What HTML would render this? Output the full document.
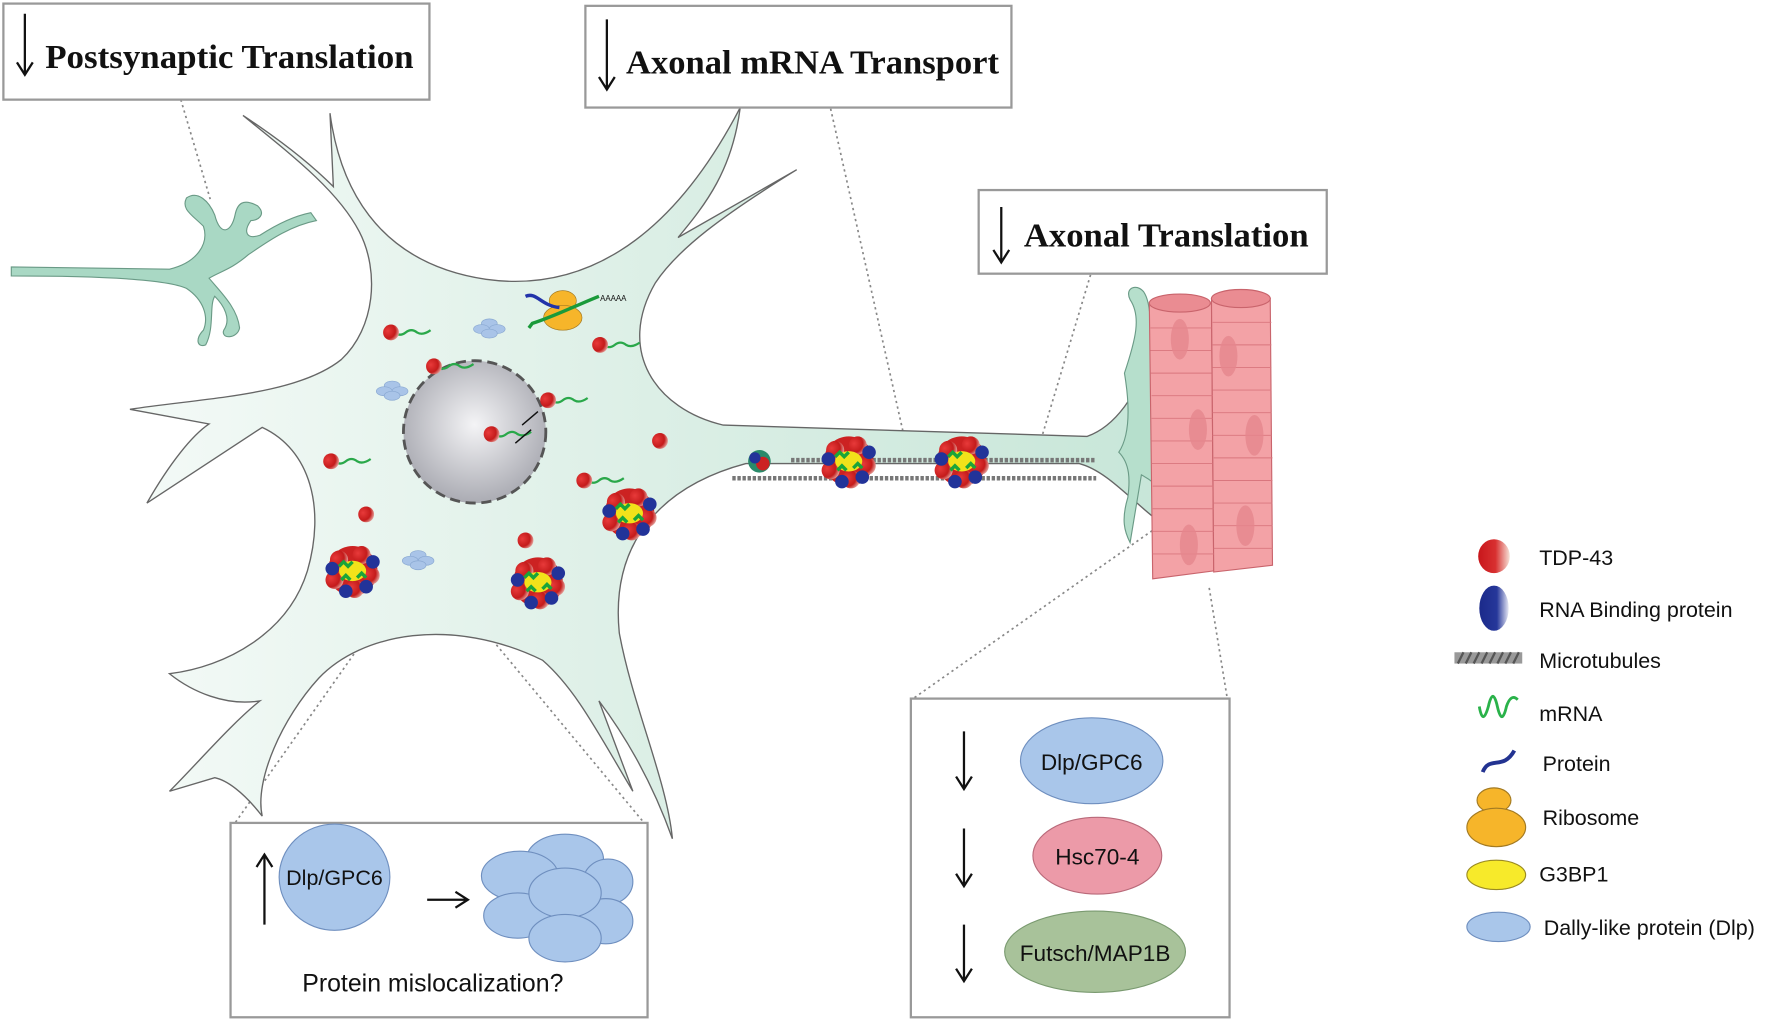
<!DOCTYPE html>
<html><head><meta charset="utf-8">
<style>
html,body{margin:0;padding:0;background:#fff;}
svg{display:block;}
.t{font-family:"Liberation Serif",serif;font-weight:bold;fill:#111;}
.s{font-family:"Liberation Sans",sans-serif;fill:#111;}
</style></head><body>
<svg width="1772" height="1022" viewBox="0 0 1568 904" xmlns="http://www.w3.org/2000/svg">
<defs>
<linearGradient id="cell" x1="0" y1="0" x2="1" y2="0">
<stop offset="0" stop-color="#f4faf7"/><stop offset="0.5" stop-color="#dcefe6"/><stop offset="1" stop-color="#c7e6d8"/>
</linearGradient>
<radialGradient id="nuc" cx="0.5" cy="0.45" r="0.6">
<stop offset="0" stop-color="#f4f4f6"/><stop offset="1" stop-color="#a4a5ad"/>
</radialGradient>
<radialGradient id="red" cx="0.3" cy="0.4" r="0.8">
<stop offset="0" stop-color="#e83a3a"/><stop offset="0.6" stop-color="#c41b1b"/><stop offset="1" stop-color="#f0d0c8"/>
</radialGradient>
<linearGradient id="redL" x1="0" y1="0" x2="1" y2="0">
<stop offset="0" stop-color="#c8161b"/><stop offset="0.55" stop-color="#d83030"/><stop offset="1" stop-color="#f6e2d8"/>
</linearGradient>
<linearGradient id="blueL" x1="0" y1="0" x2="1" y2="0">
<stop offset="0" stop-color="#1b2a8a"/><stop offset="0.6" stop-color="#26379a"/><stop offset="1" stop-color="#e6e8f4"/>
</linearGradient>
<g id="grain">
<circle r="22" fill="#c22"/>
<circle cx="-12" cy="-10" r="8" fill="url(#red)"/><circle cx="8" cy="-14" r="8" fill="url(#red)"/>
<circle cx="16" cy="4" r="8" fill="url(#red)"/><circle cx="-16" cy="8" r="8" fill="url(#red)"/>
<circle cx="2" cy="16" r="8" fill="url(#red)"/><circle cx="-18" cy="-2" r="6" fill="#223399"/>
<circle cx="18" cy="-8" r="6" fill="#223399"/><circle cx="-6" cy="18" r="6" fill="#223399"/>
<circle cx="12" cy="14" r="6" fill="#223399"/>
<ellipse cx="0" cy="0" rx="12" ry="9" fill="#f2e21a"/>
<path d="M-12,-4 l4,-4 l4,4 l4,-4 M4,6 l4,-4 l4,4 M-10,8 l4,-4 l4,4" stroke="#1aa53a" stroke-width="3" fill="none"/>
</g>
<g id="tdp"><path d="M0,0 q5,4 10,0 q5,-4 10,0 q5,3 12,-2" stroke="#2aa84a" stroke-width="2" fill="none"/><circle cx="-3" cy="0" r="7" fill="url(#red)"/></g>
<g id="dlpc"><ellipse cx="0" cy="-4" rx="7" ry="4" fill="#a9c4e8" stroke="#8aa9d2" stroke-width="0.6"/><ellipse cx="-7" cy="1" rx="7" ry="4" fill="#a9c4e8" stroke="#8aa9d2" stroke-width="0.6"/><ellipse cx="7" cy="1" rx="7" ry="4" fill="#a9c4e8" stroke="#8aa9d2" stroke-width="0.6"/><ellipse cx="0" cy="5" rx="7" ry="4" fill="#a9c4e8" stroke="#8aa9d2" stroke-width="0.6"/></g>
</defs>

<g stroke="#888" stroke-width="1.5" stroke-dasharray="2,3" fill="none">
<line x1="160" y1="88" x2="186" y2="176"/>
<line x1="735" y1="96" x2="800" y2="386"/>
<line x1="965" y1="243" x2="922" y2="386"/>
<line x1="365" y1="505" x2="208" y2="728"/>
<line x1="385" y1="505" x2="570" y2="728"/>
<line x1="1040" y1="455" x2="808" y2="618"/>
<line x1="1070" y1="520" x2="1086" y2="618"/>
</g>

<path d="M215,102 C250,125 275,145 295,165 L292,100 C300,160 330,232 430,247 C510,258 590,220 655,95 C648,150 625,180 600,210 L705,150 C640,190 600,220 580,250 C545,310 580,362 640,376 L962,386 C990,376 1005,345 1012,330 L1040,470 C1010,455 985,418 955,410 L660,410 C585,430 540,480 548,560 C560,625 590,690 595,742 C580,700 560,660 530,620 L560,700 C530,650 510,610 480,584 C400,545 320,560 282,600 C250,635 225,690 232,722 C215,700 200,690 190,688 L150,700 C175,675 205,640 230,620 C200,625 170,612 150,596 C200,590 255,560 272,505 C288,450 275,398 232,378 L130,445 C150,410 170,385 185,375 L115,362 C180,352 262,350 302,318 C332,290 336,240 318,205 C300,170 262,140 215,102 Z" fill="url(#cell)" stroke="#666" stroke-width="1.2"/>

<path d="M10,236 L150,238 C175,232 185,215 180,200 C170,190 160,185 165,175 C175,168 185,178 190,190 C195,210 205,205 208,190 C210,180 215,175 228,182 C236,190 228,195 222,195 C215,205 218,212 230,208 C250,195 265,190 275,188 L280,195 C255,200 235,215 220,225 C205,238 195,240 185,246 C195,258 210,272 212,290 C210,300 195,300 198,292 C205,282 198,270 190,262 C185,270 190,290 182,305 C175,308 172,300 180,292 C185,280 180,265 165,255 C150,248 100,244 10,244 Z" fill="#a9d8c4" stroke="#6a9a86" stroke-width="1"/>

<path d="M995,330 C1005,300 1010,280 1000,265 C995,255 1005,250 1012,258 C1020,270 1015,290 1025,300 C1040,290 1050,280 1055,300 C1045,310 1035,320 1030,340 C1035,365 1050,372 1060,380 C1070,375 1075,390 1065,395 C1050,395 1040,388 1030,395 C1040,410 1050,430 1055,450 C1055,470 1040,470 1040,455 C1035,440 1025,428 1010,420 L1000,480 C995,470 992,460 998,440 C1000,425 1000,410 990,400 C1000,385 1000,360 995,330 Z" fill="#b6dfcc" stroke="#6a9a86" stroke-width="1"/>

<g stroke="#c9646c" stroke-width="1">
<path d="M1017,268 L1072,268 L1074,505 L1020,512 Z" fill="#f3a2a6"/>
<ellipse cx="1044" cy="268" rx="27" ry="8" fill="#ea8c92"/>
<path d="M1072,264 L1124,264 L1126,500 L1074,506 Z" fill="#f3a2a6"/>
<ellipse cx="1098" cy="264" rx="26" ry="8" fill="#ea8c92"/>
<g fill="none" stroke="#d9767e" stroke-width="0.8">
<path d="M1018,290 h54 M1018,310 h54 M1018,330 h54 M1019,350 h54 M1019,370 h54 M1019,390 h54 M1019,410 h54 M1020,430 h54 M1020,450 h54 M1020,470 h54 M1020,490 h54"/>
<path d="M1073,285 h52 M1073,305 h52 M1073,325 h52 M1073,345 h52 M1073,365 h52 M1073,385 h52 M1074,405 h52 M1074,425 h52 M1074,445 h52 M1074,465 h52 M1074,485 h52"/>
</g>
<g fill="#e6878e" stroke="none" opacity="0.8">
<ellipse cx="1044" cy="300" rx="8" ry="18"/><ellipse cx="1060" cy="380" rx="8" ry="18"/><ellipse cx="1052" cy="482" rx="8" ry="18"/>
<ellipse cx="1087" cy="315" rx="8" ry="18"/><ellipse cx="1110" cy="385" rx="8" ry="18"/><ellipse cx="1102" cy="465" rx="8" ry="18"/>
</g>
</g>

<circle cx="420" cy="382" r="63" fill="url(#nuc)" stroke="#555" stroke-width="2.5" stroke-dasharray="9,5"/>

<g stroke="#777" stroke-width="4" stroke-dasharray="3,1.5">
<line x1="700" y1="407" x2="970" y2="407"/><line x1="648" y1="423" x2="970" y2="423"/>
</g>

<use href="#tdp" x="349" y="294"/>
<use href="#tdp" x="387" y="324"/>
<use href="#tdp" x="488" y="354"/>
<use href="#tdp" x="534" y="305"/>
<use href="#tdp" x="438" y="384"/>
<use href="#tdp" x="296" y="408"/>
<use href="#tdp" x="520" y="425"/>
<circle cx="584" cy="390" r="7" fill="url(#red)"/>
<circle cx="324" cy="455" r="7" fill="url(#red)"/>
<circle cx="465" cy="478" r="7" fill="url(#red)"/>
<path d="M462,376 l14,-12 M470,380 l-14,12" stroke="#111" stroke-width="1.3"/>
<use href="#dlpc" x="433" y="290"/>
<use href="#dlpc" x="347" y="345"/>
<use href="#dlpc" x="370" y="495"/>
<use href="#grain" x="557" y="454"/>
<use href="#grain" x="312" y="505"/>
<use href="#grain" x="476" y="515"/>
<use href="#grain" x="751" y="408"/>
<use href="#grain" x="851" y="408"/>
<circle cx="672" cy="408" r="10" fill="#2a8a6a"/><circle cx="675" cy="410" r="6" fill="#c22"/><circle cx="668" cy="405" r="5" fill="#223399"/>
<ellipse cx="498" cy="266" rx="12" ry="9" fill="#f6b52a" stroke="#a37a22" stroke-width="0.6"/>
<ellipse cx="498" cy="281" rx="17" ry="11" fill="#f6b52a" stroke="#a37a22" stroke-width="0.6"/>
<path d="M468,290 l3,-4 C490,280 510,270 530,262" stroke="#1a9a3a" stroke-width="3" fill="none"/>
<path d="M465,262 C475,258 478,270 495,272" stroke="#2233aa" stroke-width="3" fill="none"/>
<text x="531" y="266" font-size="7" class="s">AAAAA</text>

<g fill="#fff" stroke="#999" stroke-width="2">
<rect x="3" y="3" width="377" height="85"/>
<rect x="518" y="5" width="377" height="90"/>
<rect x="866" y="168" width="308" height="74"/>
<rect x="204" y="728" width="369" height="172"/>
<rect x="806" y="618" width="282" height="282"/>
</g>
<g stroke="#111" stroke-width="2" fill="none">
<path d="M22,12 V64 M15,55 L22,66 L29,55"/>
<path d="M537,17 V77 M530,68 L537,79 L544,68"/>
<path d="M886,183 V230 M879,221 L886,232 L893,221"/>
<path d="M234,818 V758 M227,767 L234,756 L241,767"/>
<path d="M378,796 H412 M403,789 L414,796 L403,803"/>
<path d="M853,647 V696 M846,687 L853,698 L860,687"/>
<path d="M853,733 V782 M846,773 L853,784 L860,773"/>
<path d="M853,818 V866 M846,857 L853,868 L860,857"/>
</g>
<text x="40" y="60" font-size="30" class="t" textLength="326" lengthAdjust="spacingAndGlyphs">Postsynaptic Translation</text>
<text x="554" y="65" font-size="30" class="t" textLength="330" lengthAdjust="spacingAndGlyphs">Axonal mRNA Transport</text>
<text x="906" y="218" font-size="30" class="t" textLength="252" lengthAdjust="spacingAndGlyphs">Axonal Translation</text>

<ellipse cx="296" cy="776" rx="49" ry="47" fill="#a9c6ea" stroke="#6f8fbf" stroke-width="1"/>
<text x="296" y="783" font-size="19" class="s" text-anchor="middle">Dlp/GPC6</text>
<g fill="#a9c6ea" stroke="#6f8fbf" stroke-width="1">
<ellipse cx="500" cy="760" rx="34" ry="22"/>
<ellipse cx="460" cy="775" rx="34" ry="22"/><ellipse cx="538" cy="780" rx="22" ry="20"/>
<ellipse cx="458" cy="810" rx="30" ry="20"/><ellipse cx="536" cy="815" rx="24" ry="20"/>
<ellipse cx="500" cy="790" rx="32" ry="22"/>
<ellipse cx="500" cy="830" rx="32" ry="21"/>
</g>
<text x="383" y="877" font-size="22" class="s" text-anchor="middle">Protein mislocalization?</text>

<ellipse cx="966" cy="673" rx="63" ry="38" fill="#a9c6ea" stroke="#6f8fbf"/>
<text x="966" y="681" font-size="20" class="s" text-anchor="middle">Dlp/GPC6</text>
<ellipse cx="971" cy="757" rx="57" ry="34" fill="#ec9aa8" stroke="#b96a7a"/>
<text x="971" y="765" font-size="20" class="s" text-anchor="middle">Hsc70-4</text>
<ellipse cx="969" cy="842" rx="80" ry="36" fill="#a8c29a" stroke="#7a9a70"/>
<text x="969" y="850" font-size="20" class="s" text-anchor="middle">Futsch/MAP1B</text>

<ellipse cx="1322" cy="492" rx="14" ry="15" fill="url(#redL)"/>
<text x="1362" y="500" font-size="19" class="s">TDP-43</text>
<ellipse cx="1322" cy="538" rx="13" ry="20" fill="url(#blueL)"/>
<text x="1362" y="546" font-size="19" class="s">RNA Binding protein</text>
<rect x="1287" y="577" width="60" height="10" fill="#999"/>
<path d="M1290,587 l5,-10 M1297,587 l5,-10 M1304,587 l5,-10 M1311,587 l5,-10 M1318,587 l5,-10 M1325,587 l5,-10 M1332,587 l5,-10 M1339,587 l5,-10" stroke="#555" stroke-width="2"/>
<text x="1362" y="591" font-size="19" class="s">Microtubules</text>
<path d="M1309,625 q3,18 8,0 q4,-18 8,0 q4,18 8,0 q4,-12 10,-6" stroke="#2ab24a" stroke-width="2.5" fill="none"/>
<text x="1362" y="638" font-size="19" class="s">mRNA</text>
<path d="M1312,683 C1318,668 1330,682 1340,664" stroke="#233391" stroke-width="3.5" fill="none"/>
<text x="1365" y="682" font-size="19" class="s">Protein</text>
<ellipse cx="1322" cy="708" rx="15" ry="11" fill="#f6b52a" stroke="#a37a22"/>
<ellipse cx="1324" cy="732" rx="26" ry="17" fill="#f6b52a" stroke="#a37a22"/>
<text x="1365" y="730" font-size="19" class="s">Ribosome</text>
<ellipse cx="1324" cy="774" rx="26" ry="13" fill="#f7ea2a" stroke="#9a8a22"/>
<text x="1362" y="780" font-size="19" class="s">G3BP1</text>
<ellipse cx="1326" cy="820" rx="28" ry="13" fill="#a9c6ea" stroke="#6f8fbf"/>
<text x="1366" y="827" font-size="19" class="s">Dally-like protein (Dlp)</text>
</svg>
</body></html>
